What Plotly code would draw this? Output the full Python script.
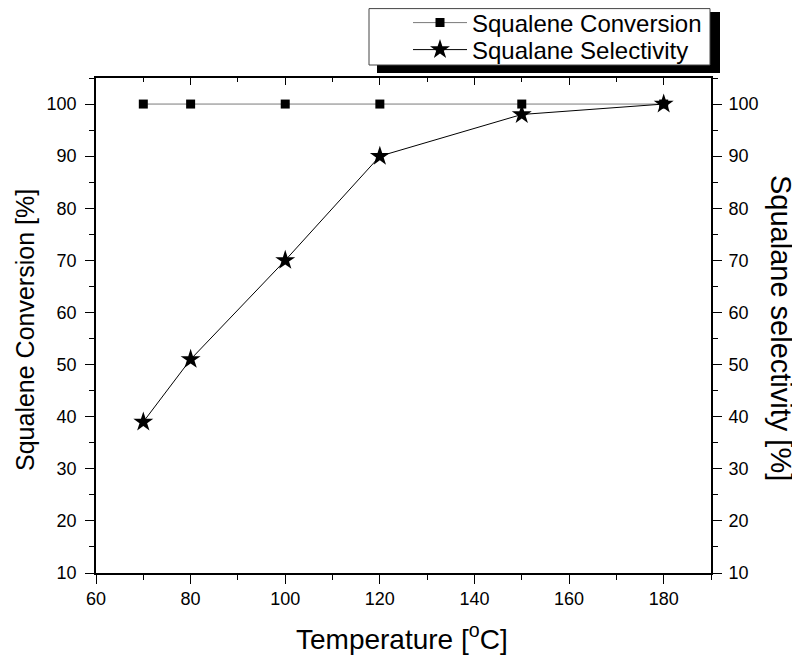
import plotly.graph_objects as go

temperature = [70, 80, 100, 120, 150, 180]
squalene_conversion = [100, 100, 100, 100, 100, 100]
squalane_selectivity = [39, 51, 70, 90, 98, 100]

# page has an 8px body margin, so the figure is 8px smaller and offset
OFF = 8
W, H = 800 - OFF, 660 - OFF
ML, MR, MT, MB = 96 - OFF, 89, 78 - OFF, 87
PW, PH = W - ML - MR, H - MT - MB


def px_x(px):
    return (px - OFF - ML) / PW


def px_y(py):
    return (H - MB - (py - OFF)) / PH


FONT = "Liberation Sans, Arial, sans-serif"

fig = go.Figure()
fig.add_trace(go.Scatter(
    x=temperature, y=squalene_conversion, name="Squalene Conversion",
    mode="lines+markers",
    line=dict(color="#7a7a7a", width=1),
    marker=dict(symbol="square", size=9, color="black"),
    legend="legend",
))
fig.add_trace(go.Scatter(
    x=temperature, y=squalane_selectivity, name="Squalane Selectivity",
    mode="lines+markers", yaxis="y2",
    line=dict(color="black", width=1),
    marker=dict(symbol="star", size=15, color="black"),
    legend="legend2",
))
fig.add_trace(go.Scatter(x=[None], y=[None], xaxis="x2", showlegend=False,
                         hoverinfo="skip"))

axis_common = dict(showline=True, linecolor="black", linewidth=1.6,
                   showgrid=False, zeroline=False,
                   tickcolor="black", tickwidth=1.3,
                   tickfont=dict(family=FONT, size=18, color="black"))

fig.update_layout(
    width=W, height=H,
    margin=dict(l=ML, r=MR, t=MT, b=MB, autoexpand=False),
    paper_bgcolor="white", plot_bgcolor="white",
    showlegend=True,
    xaxis=dict(range=[60, 190], tickmode="linear", tick0=60, dtick=20,
               ticks="outside", ticklen=9,
               minor=dict(dtick=10, tick0=60, ticks="outside", ticklen=5,
                          tickcolor="black", tickwidth=1.3),
               **axis_common),
    xaxis2=dict(range=[60, 190], overlaying="x", side="top", anchor="y",
                tickmode="linear", tick0=60, dtick=20, ticks="inside",
                ticklen=7, showticklabels=False,
                minor=dict(dtick=10, tick0=60, ticks="inside", ticklen=4,
                           tickcolor="black", tickwidth=1.3),
                **axis_common),
    yaxis=dict(range=[10, 105], tickmode="linear", tick0=10, dtick=10,
               ticks="outside", ticklen=9, ticklabelstandoff=5,
               minor=dict(dtick=5, tick0=10, ticks="outside", ticklen=5,
                          tickcolor="black", tickwidth=1.3),
               **axis_common),
    yaxis2=dict(range=[10, 105], overlaying="y", side="right", anchor="x",
                tickmode="linear", tick0=10, dtick=10,
                ticks="outside", ticklen=9, ticklabelstandoff=3,
                minor=dict(dtick=5, tick0=10, ticks="outside", ticklen=5,
                           tickcolor="black", tickwidth=1.3),
                **axis_common),
    legend=dict(x=px_x(408), y=px_y(23), xanchor="left", yanchor="middle",
                bgcolor="rgba(0,0,0,0)", borderwidth=0, itemwidth=54,
                font=dict(family=FONT, size=24, color="black")),
    legend2=dict(x=px_x(408), y=px_y(50), xanchor="left", yanchor="middle",
                 bgcolor="rgba(0,0,0,0)", borderwidth=0, itemwidth=54,
                 font=dict(family=FONT, size=24, color="black")),
)

# legend frame with drop shadow
fig.add_shape(type="rect", xref="paper", yref="paper",
              x0=px_x(377), x1=px_x(720), y0=px_y(73), y1=px_y(12),
              fillcolor="black", line=dict(width=0), layer="above")
fig.add_shape(type="rect", xref="paper", yref="paper",
              x0=px_x(369), x1=px_x(710), y0=px_y(65), y1=px_y(8.6),
              fillcolor="white", line=dict(color="#444444", width=1),
              layer="above")

fig.add_annotation(text="Temperature [<sup>o</sup>C]", xref="paper", yref="paper",
                   x=px_x(402), y=px_y(637), showarrow=False,
                   xanchor="center", yanchor="middle",
                   font=dict(family=FONT, size=28, color="black"))
fig.add_annotation(text="Squalene Conversion [%]", xref="paper", yref="paper",
                   x=px_x(25), y=px_y(330), textangle=-90, showarrow=False,
                   xanchor="center", yanchor="middle",
                   font=dict(family=FONT, size=25, color="black"))
fig.add_annotation(text="Squalane selectivity [%]", xref="paper", yref="paper",
                   x=px_x(781), y=px_y(328), textangle=90, showarrow=False,
                   xanchor="center", yanchor="middle",
                   font=dict(family=FONT, size=29, color="black"))

fig.write_html("out.html")
